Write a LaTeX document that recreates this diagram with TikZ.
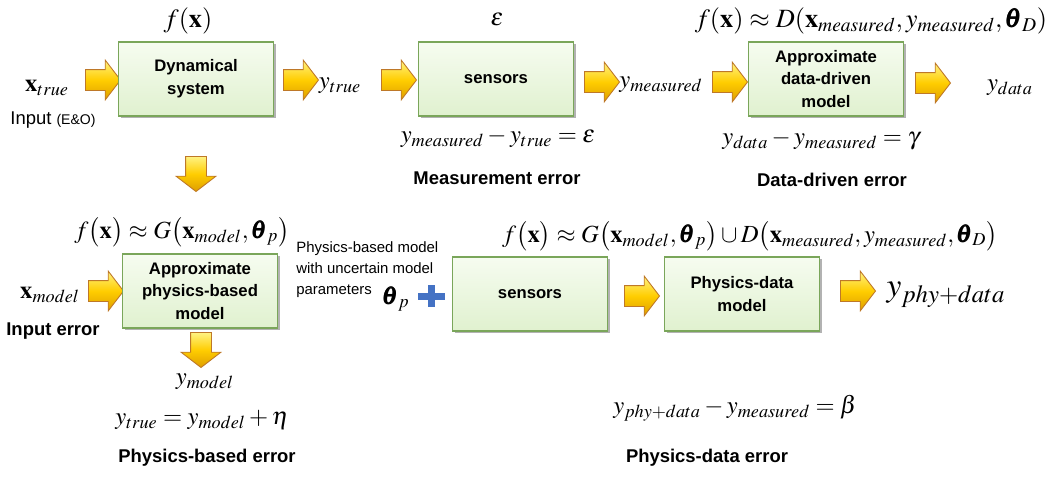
\documentclass[tikz,border=0pt]{standalone}
\usepackage{amsmath}
\usepackage{mathptmx}
\usepackage[no-math]{fontspec}
\setmainfont{Liberation Sans}
\usetikzlibrary{shapes.arrows,shadows}

\definecolor{boxline}{RGB}{122,166,90}
\definecolor{boxtop}{RGB}{246,252,240}
\definecolor{boxbot}{RGB}{224,241,207}
\definecolor{arrowline}{RGB}{190,120,40}
\definecolor{arrowtop}{RGB}{255,242,130}
\definecolor{arrowmid}{RGB}{255,205,0}
\definecolor{arrowbot}{RGB}{222,158,0}
\definecolor{plusblue}{RGB}{68,114,196}

\tikzset{
  block/.style={draw=boxline,line width=0.8pt,top color=boxtop,bottom color=boxbot,
    minimum width=3.1cm,minimum height=1.48cm,align=center,
    font=\fontsize{9.5}{13}\selectfont\bfseries,
    drop shadow={shadow xshift=1.2pt,shadow yshift=-1.2pt,fill=black,opacity=0.3}},
  fat/.style={single arrow,draw=arrowline,line width=0.5pt,
    top color=arrowtop,bottom color=arrowbot,middle color=arrowmid,
    minimum height=0.7cm,inner xsep=0pt,inner ysep=0.2cm,
    single arrow head extend=0.19cm,single arrow tip angle=105},
  fatdown/.style={fat,rotate=-90},
  eq/.style={font=\fontsize{14}{16}\selectfont,inner sep=1pt},
  lbl/.style={font=\fontsize{10.5}{12}\selectfont\bfseries},
  note/.style={font=\fontsize{8.5}{11.9}\selectfont,align=left,inner sep=0pt}
}

\begin{document}
\begin{tikzpicture}[x=0.02cm,y=-0.02cm]
\useasboundingbox (0,0) rectangle (1047,478);

% top row
\node (xtrue) at (47,88) [eq] {$\mathbf{x}_{true}$};
\node (inp) at (53,120) [font=\fontsize{10.5}{12}\selectfont] {Input {\fontsize{8}{10}\selectfont(E\&O)}};
\node (a1) at (99,80) [fat] {};
\node (dyn) at (196,79) [block] {Dynamical\\system};
\node (fx) at (188,21) [eq,font=\fontsize{15}{17}\selectfont] {$f(\mathbf{x})$};
\node (a2) at (297,80) [fat] {};
\node (ytrue) at (340,86) [eq] {$y_{true}$};
\node (a3) at (395,80) [fat] {};
\node (sens) at (496,79) [block] {sensors};
\node (eps) at (497,19) [eq] {$\varepsilon$};
\node (a4) at (598,82) [fat] {};
\node (ymeas) at (661,85) [eq] {$y_{measured}$};
\node (a5) at (726,82) [fat] {};
\node (dd) at (826,79) [block] {Approximate\\data-driven\\model};
\node (fxD) at (871,21) [eq,font=\fontsize{15}{17}\selectfont] {$f(\mathbf{x})\approx D(\mathbf{x}_{measured},y_{measured},\pmb{\theta}_D)$};
\node (a6) at (929,83) [fat] {};
\node (ydata) at (1010,88) [eq] {$y_{data}$};

\node (eps2) at (498,138) [eq] {$y_{measured}-y_{true}=\varepsilon$};
\node (merr) at (497,178) [lbl] {Measurement error};
\node (gam) at (821,140) [eq] {$y_{data}-y_{measured}=\gamma$};
\node (derr) at (832,180) [lbl] {Data-driven error};

\node (d1) at (196,170) [fatdown] {};

% bottom row
\node (fxG) at (182,232) [eq] {$f\bigl(\mathbf{x}\bigr)\approx G\bigl(\mathbf{x}_{model},\pmb{\theta}_p\bigr)$};
\node (xmodel) at (50,295) [eq] {$\mathbf{x}_{model}$};
\node (ierr) at (53,331) [lbl] {Input error};
\node (a7) at (102,291) [fat] {};
\node (phys) at (200,291) [block] {Approximate\\physics-based\\model};
\node (d2) at (201,346) [fatdown] {};
\node (ymodel) at (205,382) [eq] {$y_{model}$};
\node (eta) at (202,420) [eq] {$y_{true}=y_{model}+\eta$};
\node (perr) at (207,458) [lbl] {Physics-based error};

\node (unc) at (296,241) [note,anchor=north west] {Physics-based model\\with uncertain model\\parameters};
\node (thp) at (396,299) [eq] {$\pmb{\theta}_p$};
\fill[plusblue] (418,292.5) rectangle (445,299.5);
\fill[plusblue] (428,285) rectangle (435,307);
\node (sens2) at (530,294) [block] {sensors};
\node (fxGD) at (750,236) [eq] {$f\bigl(\mathbf{x}\bigr)\approx G\bigl(\mathbf{x}_{model},\pmb{\theta}_p\bigr)\cup D\bigl(\mathbf{x}_{measured},y_{measured},\pmb{\theta}_D\bigr)$};
\node (a8) at (638,296) [fat] {};
\node (pd) at (742,294) [block] {Physics-data\\model};
\node (a9) at (854,291) [fat] {};
\node (yphy) at (946,295) [font=\fontsize{19}{22}\selectfont] {$y_{phy+data}$};

\node (beta) at (735,408) [eq] {$y_{phy+data}-y_{measured}=\beta$};
\node (pderr) at (707,458) [lbl] {Physics-data error};

\end{tikzpicture}
\end{document}
